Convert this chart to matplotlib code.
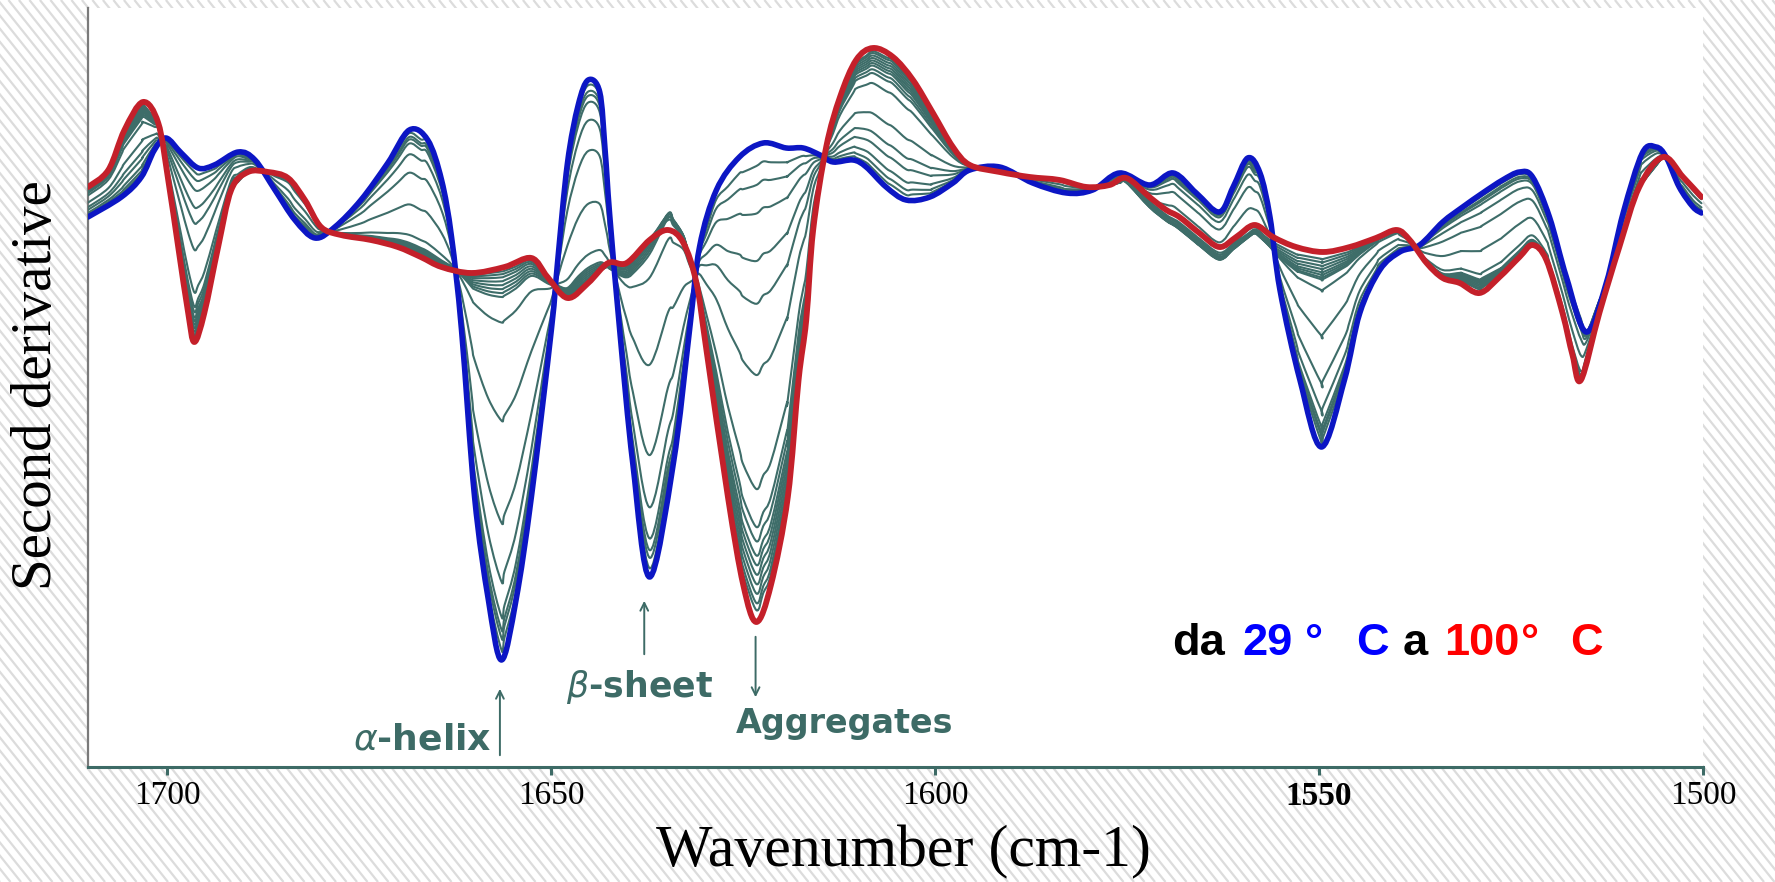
import numpy as np
import matplotlib
matplotlib.use("Agg")
import matplotlib.pyplot as plt
from matplotlib.collections import LineCollection
from matplotlib.patches import Rectangle, PathPatch
from matplotlib.path import Path

W, H, DPI = 1775, 882, 100

# ---------------- data (second derivative, arbitrary units) ----------------
BLUE_WN = [1710.35, 1706.0, 1703.4, 1701.7, 1700.2, 1698.2, 1696.0, 1693.9, 1690.8, 1688.6,
           1686.0, 1683.4, 1680.8, 1678.2, 1674.8, 1671.3, 1668.5, 1666.1, 1664.3, 1663.0,
           1661.7, 1660.0, 1658.2, 1656.5, 1654.6, 1652.6, 1650.0, 1649.2, 1647.9, 1646.5,
           1645.2, 1643.7, 1643.0, 1642.4, 1641.1, 1639.4, 1637.2, 1634.1, 1632.0, 1630.7,
           1628.5, 1625.5, 1622.4, 1619.4, 1617.2, 1615.0, 1613.3, 1610.7, 1609.0, 1606.4,
           1603.8, 1600.7, 1597.7, 1595.5, 1591.6, 1587.3, 1582.9, 1579.5, 1576.0, 1572.1,
           1569.0, 1566.0, 1563.0, 1561.2, 1559.3, 1557.7, 1556.4, 1555.1, 1552.5, 1549.7,
           1546.7, 1544.7, 1542.1, 1539.5, 1536.9, 1533.9, 1531.3, 1528.7, 1526.1, 1523.9,
           1522.2, 1520.0, 1517.8, 1515.2, 1512.6, 1510.4, 1507.9, 1506.1, 1504.8, 1503.1,
           1501.3, 1500.2]
BLUE_D2 = [-47, -27, -7, 20, 32, 17, 2, 5, 18, 10,
           -20, -50, -68, -57, -30, 7, 40, 30, -10, -67,
           -160, -327, -430, -490, -430, -327, -160, -93, 7, 65,
           90, 78, 20, -45, -160, -293, -407, -293, -160, -77,
           -20, 13, 27, 22, 22, 15, 8, 10, 3, -17,
           -30, -27, -13, 0, 3, -13, -23, -20, -3, -15,
           -3, -23, -42, -17, 12, -3, -47, -120, -210, -277,
           -210, -143, -100, -82, -75, -52, -37, -23, -10, -2,
           -7, -47, -107, -162, -113, -43, 17, 23, 13, -17,
           -37, -43]

RED_WN = [1710.35, 1707.7, 1705.6, 1703.2, 1701.2, 1699.9, 1698.6, 1697.3, 1696.5, 1695.2,
          1693.4, 1691.7, 1689.5, 1686.9, 1684.3, 1682.1, 1680.0, 1677.4, 1673.5, 1670.0,
          1667.0, 1664.3, 1660.4, 1656.1, 1652.6, 1650.5, 1647.9, 1645.2, 1642.6, 1640.2,
          1637.2, 1634.8, 1632.8, 1631.1, 1629.8, 1627.0, 1625.0, 1623.3, 1621.4, 1619.2,
          1617.8, 1616.8, 1615.9, 1614.2, 1612.4, 1610.3, 1608.1, 1605.5, 1602.9, 1600.3,
          1597.7, 1595.5, 1591.6, 1587.7, 1583.8, 1580.3, 1577.3, 1575.1, 1572.1, 1569.9,
          1568.2, 1565.6, 1563.0, 1560.8, 1558.4, 1556.0, 1553.0, 1549.5, 1546.0, 1542.6,
          1539.9, 1538.2, 1536.0, 1533.9, 1531.7, 1529.1, 1526.5, 1523.9, 1522.2, 1520.4,
          1518.3, 1517.0, 1515.9, 1513.5, 1510.9, 1508.3, 1505.2, 1502.6, 1500.2]
RED_D2 = [-17, 0, 40, 68, 47, -10, -77, -143, -172, -143,
          -77, -20, -2, -2, -8, -30, -57, -65, -70, -77,
          -87, -97, -103, -97, -88, -107, -128, -113, -93, -93,
          -70, -60, -73, -113, -180, -327, -415, -452, -415, -327,
          -210, -150, -60, 23, 73, 110, 122, 113, 90, 57,
          23, 5, -2, -7, -10, -17, -15, -8, -27, -40,
          -47, -63, -77, -67, -55, -67, -77, -82, -77, -68,
          -60, -70, -93, -108, -113, -123, -107, -87, -75, -90,
          -143, -185, -210, -143, -77, -17, 13, -7, -27]

# intermediate temperatures: fraction of the way from 29 C (blue) to 100 C (red),
# read for native bands (alpha-helix, beta-sheet, 1550) and aggregate bands
GREY_FRAC_NATIVE = [0.026, 0.057, 0.078, 0.111, 0.20, 0.35, 0.61, 0.86,
                    0.925, 0.935, 0.945, 0.955, 0.965, 0.975, 0.983, 0.99]
GREY_FRAC_AGGR = [0.04, 0.08, 0.14, 0.24, 0.33, 0.48, 0.72, 0.80,
                  0.83, 0.86, 0.88, 0.90, 0.92, 0.94, 0.96, 0.975]
# how strongly each grey curve shows the high-temperature deviation from the red curve
GREY_HOT_W = [0.0, 0.0, 0.05, 0.1, 0.2, 0.35, 0.6, 0.85,
              1.0, 1.0, 0.95, 0.9, 0.8, 0.7, 0.55, 0.4]
# where the aggregate bands are (1 = aggregate band)
AGGR_BAND_WN = [1499, 1593, 1596, 1630.8, 1632.2, 1688.0, 1689.5, 1711]
AGGR_BAND_W = [0, 0, 1, 1, 0, 0, 1, 1]
# deviation of the hot grey bundle from the 100 C curve
HOT_DEV_WN = [1499, 1526, 1530, 1534, 1542, 1548, 1553, 1558, 1563, 1568, 1573, 1577,
              1631, 1632.8, 1634.6, 1636.6, 1639, 1642, 1645, 1711]
HOT_DEV = [0, 0, 8, 0, 0, -12, -15, -12, -15, -15, -10, 0,
           0, 15, 33, 15, 0, -10, 0, 0]

XTICKS = [1700, 1650, 1600, 1550, 1500]

# ---------------- styles ----------------
BLUE_C = "#0c16c4"
RED_C = "#c4202a"
GREY_C = "#3e6d69"
TEAL = "#3d6b66"
HATCH_C = "#dcdcdc"


def smooth_path(x, y):
    """Smooth (Catmull-Rom style Bezier) path through the points."""
    p = np.column_stack([x, y]).astype(float)
    n = len(p)
    verts = [p[0]]
    codes = [Path.MOVETO]
    for i in range(n - 1):
        p0 = p[i - 1] if i > 0 else p[i]
        p1, p2 = p[i], p[i + 1]
        p3 = p[i + 2] if i + 2 < n else p[i + 1]
        c1 = p1 + (p2 - p0) / 6.0
        c2 = p2 - (p3 - p1) / 6.0
        verts += [c1, c2, p2]
        codes += [Path.CURVE4] * 3
    return Path(verts, codes)


def draw_curve(ax, x, y, color, lw, z):
    ax.add_patch(PathPatch(smooth_path(x, y), facecolor="none", edgecolor=color,
                           lw=lw, joinstyle="round", capstyle="round", zorder=z))


fig = plt.figure(figsize=(W / DPI, H / DPI), dpi=DPI, facecolor="white")

# background (slide) with diagonal stripes
bg = fig.add_axes([0, 0, 1, 1], zorder=0)
bg.set_xlim(0, W)
bg.set_ylim(H, 0)
bg.axis("off")
segs = []
dx = H / 1.25
for c in np.arange(-dx, W + 10, 10.5):
    segs.append([(c, 0), (c + dx, H)])
bg.add_collection(LineCollection(segs, colors=HATCH_C, linewidths=1.6))
for (x0, y0, w0, h0) in [(0, 184, 80, 432), (82, 6, 1622, 770),
                         (83, 768, 1620, 114), (1703, 812, 66, 70)]:
    bg.add_patch(Rectangle((x0, y0), w0, h0, facecolor="white", edgecolor="none"))

# main axes
L, R, T, B = 88, 1703, 8, 767
ax = fig.add_axes([L / W, 1 - B / H, (R - L) / W, (B - T) / H], zorder=2)
ax.set_facecolor("white")

bw = np.array(BLUE_WN)[::-1]
bv = np.array(BLUE_D2, float)[::-1]
rw = np.array(RED_WN)[::-1]
rv = np.array(RED_D2, float)[::-1]
grid = np.union1d(bw, rw)
b_on = np.interp(grid, bw, bv)
r_on = np.interp(grid, rw, rv)
aggw = np.interp(grid, AGGR_BAND_WN, AGGR_BAND_W)
dev = np.interp(grid, HOT_DEV_WN, HOT_DEV)

for fn, fa, hw in zip(GREY_FRAC_NATIVE, GREY_FRAC_AGGR, GREY_HOT_W):
    f = fn + (fa - fn) * aggw
    draw_curve(ax, grid, b_on + f * (r_on - b_on) + hw * dev, GREY_C, 1.5, 3)

draw_curve(ax, BLUE_WN, BLUE_D2, BLUE_C, 4.0, 4)
draw_curve(ax, RED_WN, RED_D2, RED_C, 4.2, 5)

ax.set_xlim(1710.35, 1500)
ax.set_ylim(-597, 162)
ax.set_yticks([])
ax.set_xticks(XTICKS)
ax.set_xticklabels([str(t) for t in XTICKS], fontsize=24, family="Liberation Serif")
ax.get_xticklabels()[3].set_fontweight("bold")
ax.tick_params(axis="x", direction="out", length=6, width=2.2, color=TEAL, pad=4)
for s in ("top", "right"):
    ax.spines[s].set_visible(False)
ax.spines["bottom"].set_color(TEAL)
ax.spines["bottom"].set_linewidth(2.2)
ax.spines["left"].set_color("#7a7a7a")
ax.spines["left"].set_linewidth(1.6)

# axis labels
fig.text(903 / W, 1 - 852 / H, "Wavenumber (cm-1)", ha="center", va="center",
         fontsize=43, family="Liberation Serif", zorder=3)
fig.text(37 / W, 1 - 385 / H, "Second derivative", rotation=90, ha="center",
         va="center", fontsize=41, family="Liberation Serif", zorder=3)

# band annotations
tr = ax.get_xaxis_transform()


def yfrac(ypx):
    return (B - ypx) / (B - T)


arrow_kw = dict(arrowstyle="->", color=TEAL, lw=1.4, mutation_scale=14)
ax.annotate("", xy=(1656.7, yfrac(686)), xytext=(1656.7, yfrac(758)),
            xycoords=tr, textcoords=tr, arrowprops=arrow_kw, zorder=6)
ax.annotate("", xy=(1637.9, yfrac(598)), xytext=(1637.9, yfrac(657)),
            xycoords=tr, textcoords=tr, arrowprops=arrow_kw, zorder=6)
ax.annotate("", xy=(1623.4, yfrac(700)), xytext=(1623.4, yfrac(634)),
            xycoords=tr, textcoords=tr, arrowprops=arrow_kw, zorder=6)

fig.text(492 / W, 1 - 740 / H, r"$\alpha$-helix", ha="right", va="center",
         fontsize=26, color=TEAL, fontweight="bold", family="DejaVu Sans", zorder=6)
fig.text(640 / W, 1 - 687 / H, r"$\beta$-sheet", ha="center", va="center",
         fontsize=25, color=TEAL, fontweight="bold", family="DejaVu Sans", zorder=6)
fig.text(845 / W, 1 - 724 / H, "Aggregates", ha="center", va="center",
         fontsize=24, color=TEAL, fontweight="bold", family="DejaVu Sans", zorder=6)

# temperature legend text
pieces = [("da", 1172, "black"), ("29", 1242, "#0000ff"), ("°", 1305, "#0000ff"),
          ("C", 1356, "#0000ff"), ("a", 1403, "black"), ("100", 1444, "#ff0000"),
          ("°", 1521, "#ff0000"), ("C", 1570, "#ff0000")]
for txt, xp, col in pieces:
    fig.text(xp / W, 1 - 655 / H, txt, ha="left", va="baseline", fontsize=32.5,
             fontweight="bold", family="Liberation Sans", color=col, zorder=6)

fig.savefig("out.png", dpi=DPI, facecolor="white")
